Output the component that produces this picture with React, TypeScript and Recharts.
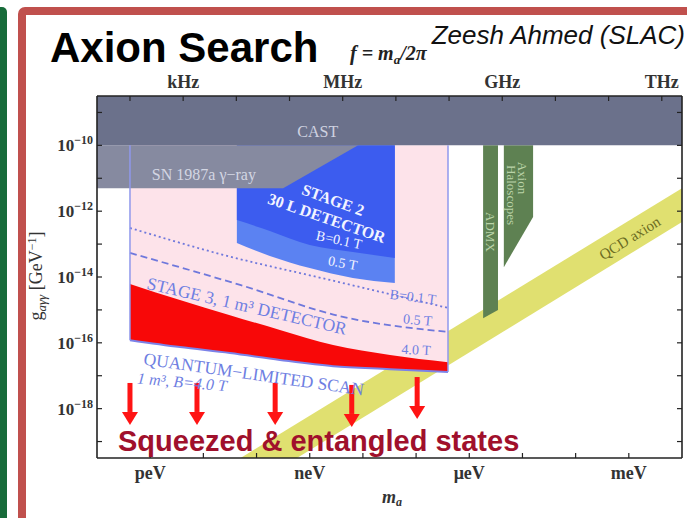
import { Area, ComposedChart, Line, ReferenceLine, Scatter, XAxis, YAxis } from 'recharts'

const serif = '"Liberation Serif", "DejaVu Serif", serif'
const sans = '"Liberation Sans", Arial, sans-serif'

// x = log10(m_a / eV), y = log10(g_agg / GeV^-1)
const massTicks = [-12, -11, -10, -9, -8, -7, -6, -5, -4, -3]
const massLabels: Record<string, string> = { '-12': 'peV', '-9': 'neV', '-6': 'μeV', '-3': 'meV' }
const freqTicks = [-12.38, -11.38, -10.38, -9.38, -8.38, -7.38, -6.38, -5.38, -4.38, -3.38, -2.38]
const freqLabels: Record<string, string> = { '-11.38': 'kHz', '-8.38': 'MHz', '-5.38': 'GHz', '-2.38': 'THz' }
const couplingTicks = [-19, -18, -17, -16, -15, -14, -13, -12, -11, -10, -9]
const couplingLabels = [-18, -16, -14, -12, -10]

// excluded / projected regions
const castM = [-13, -2]
const castTop = [-8.5, -8.5]
const castBottom = [-10, -10]

const snM = [-13, -9.5, -8.09]
const snTop = [-10, -10, -10]
const snBottom = [-11.3, -11.3, -10]

const redM = [-12.38, -11.44, -10.5, -9.56, -8.56, -7.49, -6.4]
const redTop = [-14.21, -14.7, -15.16, -15.61, -16.07, -16.37, -16.59]
const redBottom = [-15.92, -16.13, -16.31, -16.52, -16.71, -16.8, -16.89]
const pinkTop = [-10, -10, -10, -10, -10, -10, -10]

const stage2M = [-10.37, -9.75, -9.0, -8.19, -7.4]
const stage2Top = [-10, -10, -10, -10, -10]
const stage2Low = [-12.97, -13.36, -13.73, -14.03, -14.18]
const stage2High = [-12.27, -12.6, -13.03, -13.24, -13.42]

const dottedM = [-12.38, -10.69, -8.62, -6.4]
const dottedG = [-12.51, -13.3, -14.09, -14.94]
const dashedM = [-12.38, -10.31, -8.43, -6.4]
const dashedG = [-13.27, -14.24, -15.19, -15.67]

const admxM = [-5.74, -5.46]
const admxTop = [-10, -10]
const admxBottom = [-15.25, -15.0]
const haloM = [-5.35, -4.8]
const haloTop = [-10, -10]
const haloBottom = [-13.7, -12.18]

const qcdM = [-10.3, -2]
const qcdTop = [-19.5, -11.3]
const qcdBottom = [-20.55, -12.33]

const arrowM = [-12.38, -11.12, -9.65, -8.21, -6.98]
const arrowG = [-17.22, -17.22, -17.22, -17.28, -17.04]

const notes = [
  { m: -8.85, g: -9.59, text: 'CAST', angle: 0, size: 16, color: '#cfd2e0' },
  { m: -10.99, g: -10.9, text: 'SN 1987a γ−ray', angle: 0, size: 16, color: '#d3d6e3' },
  { m: -8.56, g: -11.66, text: 'STAGE 2', angle: 20, size: 16, color: '#f2f4ff', bold: true },
  { m: -8.68, g: -12.21, text: '30 L DETECTOR', angle: 19, size: 16, color: '#f2f4ff', bold: true },
  { m: -8.45, g: -12.88, text: 'B=0.1 T', angle: 12, size: 14, color: '#f2f4ff' },
  { m: -8.38, g: -13.58, text: '0.5 T', angle: 10, size: 14, color: '#f2f4ff' },
  { m: -7.06, g: -14.61, text: 'B=0.1 T', angle: 7, size: 14, color: '#6f7fe2' },
  { m: -6.97, g: -15.31, text: '0.5 T', angle: 5, size: 14, color: '#6f7fe2' },
  { m: -7.0, g: -16.22, text: '4.0 T', angle: 3, size: 14, color: '#6f7fe2' },
  { m: -10.18, g: -14.88, text: 'STAGE 3, 1 m³ DETECTOR', angle: 13, size: 17.5, color: '#6f7fe2' },
  { m: -10.05, g: -16.95, text: 'QUANTUM−LIMITED SCAN', angle: 8, size: 17.5, color: '#6f7fe2' },
  { m: -11.4, g: -17.19, text: '1 m³, B=4.0 T', angle: 5, size: 16, color: '#6f7fe2', italic: true },
  { m: -5.61, g: -12.63, text: 'ADMX', angle: 90, size: 13, color: '#b9d3a8' },
  { m: -4.99, g: -10.99, text: 'Axion', angle: 90, size: 13, color: '#b9d3a8' },
  { m: -5.2, g: -11.51, text: 'Haloscopes', angle: 90, size: 13, color: '#b9d3a8' },
  { m: -2.98, g: -12.82, text: 'QCD axion', angle: -32, size: 15, color: '#6b6b22' },
]

const band = (m: number[], lo: number[], hi: number[]) => m.map((v, i) => ({ m: v, r: [lo[i], hi[i]] }))
const curve = (m: number[], g: number[]) => m.map((v, i) => ({ m: v, g: g[i] }))

function BottomTick({ x, y, payload }: any) {
  const label = massLabels[String(payload.value)]
  return (
    <g>
      <line x1={x} x2={x} y1={y} y2={y - 5} stroke="#222" strokeWidth={1.2} />
      {label && (
        <text x={x} y={y + 21} textAnchor="middle" fontFamily={serif} fontWeight={700} fontSize={18} fill="#333">
          {label}
        </text>
      )}
    </g>
  )
}

function TopTick({ x, y, payload }: any) {
  const label = freqLabels[String(payload.value)]
  return (
    <g>
      <line x1={x} x2={x} y1={y} y2={y + 5} stroke="#222" strokeWidth={1.2} />
      {label && (
        <text x={x} y={y - 8} textAnchor="middle" fontFamily={serif} fontWeight={700} fontSize={18} fill="#333">
          {label}
        </text>
      )}
    </g>
  )
}

function LeftTick({ x, y, payload }: any) {
  const v = payload.value as number
  return (
    <g>
      <line x1={x} x2={x + 5} y1={y} y2={y} stroke="#222" strokeWidth={1.2} />
      {couplingLabels.includes(v) && (
        <text x={x - 4} y={y + 6} textAnchor="end" fontFamily={serif} fontWeight={700} fontSize={17} fill="#333">
          10
          <tspan dy={-7} fontSize={12}>{`\u2212${Math.abs(v)}`}</tspan>
        </text>
      )}
    </g>
  )
}

function RightTick({ x, y }: any) {
  return <line x1={x} x2={x - 5} y1={y} y2={y} stroke="#222" strokeWidth={1.2} />
}

function Arrow({ cx, cy }: any) {
  return (
    <g>
      <rect x={cx - 2.5} y={cy} width={5} height={29} fill="#ff1414" />
      <polygon points={`${cx - 8},${cy + 29} ${cx + 8},${cy + 29} ${cx},${cy + 42}`} fill="#ff1414" />
    </g>
  )
}

function Note({ cx, cy, payload }: any) {
  return (
    <text
      x={cx}
      y={cy}
      textAnchor="middle"
      dominantBaseline="central"
      transform={`rotate(${payload.angle} ${cx} ${cy})`}
      fontFamily={serif}
      fontSize={payload.size}
      fontWeight={payload.bold ? 700 : 400}
      fontStyle={payload.italic ? 'italic' : 'normal'}
      fill={payload.color}
    >
      {payload.text}
    </text>
  )
}

export default function App() {
  const edge = { stroke: '#8f98ec', strokeWidth: 1.5 }
  return (
    <div style={{ position: 'absolute', left: 0, top: 0, width: 687, height: 518, background: '#fff', overflow: 'hidden' }}>
      <div style={{ position: 'absolute', left: -6, top: 7, width: 13, height: 520, background: '#176b3a', borderRadius: 5 }} />
      <div
        style={{
          position: 'absolute',
          left: 18,
          top: 7,
          width: 690,
          height: 530,
          border: '8px solid #c0504d',
          borderRadius: 7,
          boxSizing: 'border-box',
        }}
      />
      <div style={{ position: 'absolute', left: 0, top: 0 }}>
        <ComposedChart width={687} height={518} margin={{ top: 66, right: 0, bottom: 30, left: 37 }}>
          <XAxis
            dataKey="m"
            type="number"
            domain={[-13, -2]}
            ticks={massTicks}
            interval={0}
            allowDataOverflow
            tickSize={0}
            tickMargin={0}
            height={30}
            tick={<BottomTick />}
            axisLine={{ stroke: '#222', strokeWidth: 1.6 }}
          />
          <XAxis
            xAxisId="top"
            orientation="top"
            dataKey="m"
            type="number"
            domain={[-13, -2]}
            ticks={freqTicks}
            interval={0}
            allowDataOverflow
            tickSize={0}
            tickMargin={0}
            height={30}
            tick={<TopTick />}
            axisLine={{ stroke: '#222', strokeWidth: 1.6 }}
          />
          <YAxis
            type="number"
            domain={[-19.5, -8.5]}
            ticks={couplingTicks}
            interval={0}
            allowDataOverflow
            tickSize={0}
            tickMargin={0}
            width={60}
            tick={<LeftTick />}
            axisLine={{ stroke: '#222', strokeWidth: 1.6 }}
          />
          <YAxis
            yAxisId="right"
            orientation="right"
            type="number"
            domain={[-19.5, -8.5]}
            ticks={couplingTicks}
            interval={0}
            allowDataOverflow
            tickSize={0}
            tickMargin={0}
            width={5}
            tick={<RightTick />}
            axisLine={{ stroke: '#222', strokeWidth: 1.6 }}
          />

          <Area data={band(qcdM, qcdBottom, qcdTop)} dataKey="r" type="linear" fill="#e0e070" fillOpacity={1} stroke="none" isAnimationActive={false} />
          <Area data={band(redM, redBottom, pinkTop)} dataKey="r" type="linear" fill="#fde3ea" fillOpacity={1} stroke="none" isAnimationActive={false} />
          <Area data={band(redM, redBottom, redTop)} dataKey="r" type="monotone" fill="#f80808" fillOpacity={1} stroke="none" isAnimationActive={false} />
          <Area data={band(stage2M, stage2Low, stage2Top)} dataKey="r" type="monotone" fill="#5b82f2" fillOpacity={1} stroke="none" isAnimationActive={false} />
          <Area data={band(stage2M, stage2High, stage2Top)} dataKey="r" type="monotone" fill="#3c5cef" fillOpacity={1} stroke="none" isAnimationActive={false} />
          <Area data={band(admxM, admxBottom, admxTop)} dataKey="r" type="linear" fill="#5e8152" fillOpacity={1} stroke="none" isAnimationActive={false} />
          <Area data={band(haloM, haloBottom, haloTop)} dataKey="r" type="linear" fill="#5e8152" fillOpacity={1} stroke="none" isAnimationActive={false} />
          <Area data={band(snM, snBottom, snTop)} dataKey="r" type="linear" fill="#868aa0" fillOpacity={1} stroke="none" isAnimationActive={false} />
          <Area data={band(castM, castBottom, castTop)} dataKey="r" type="linear" fill="#6b718b" fillOpacity={1} stroke="none" isAnimationActive={false} />

          <Line data={curve(dottedM, dottedG)} dataKey="g" type="monotone" stroke="#6f78dc" strokeWidth={1.8} strokeDasharray="2 3" dot={false} isAnimationActive={false} />
          <Line data={curve(dashedM, dashedG)} dataKey="g" type="monotone" stroke="#6f78dc" strokeWidth={1.8} strokeDasharray="7 4" dot={false} isAnimationActive={false} />
          <Line data={curve(redM, redBottom)} dataKey="g" type="monotone" stroke="#7b82e8" strokeWidth={2} dot={false} isAnimationActive={false} />
          <ReferenceLine segment={[{ x: redM[0], y: pinkTop[0] }, { x: redM[0], y: redBottom[0] }]} {...edge} />
          <ReferenceLine segment={[{ x: redM[6], y: pinkTop[6] }, { x: redM[6], y: redBottom[6] }]} {...edge} />

          <Scatter data={curve(arrowM, arrowG)} dataKey="g" shape={<Arrow />} isAnimationActive={false} />
          <Scatter data={notes} dataKey="g" shape={<Note />} isAnimationActive={false} />
        </ComposedChart>
      </div>
      <svg width={687} height={518} style={{ position: 'absolute', left: 0, top: 0, pointerEvents: 'none' }}>
        <text x={50} y={62} fontFamily={sans} fontWeight={700} fontSize={42} fill="#000">
          Axion Search
        </text>
        <text x={685} y={44} textAnchor="end" fontFamily={sans} fontStyle="italic" fontSize={26} fill="#111">
          Zeesh Ahmed (SLAC)
        </text>
        <text x={350} y={60} fontFamily={serif} fontStyle="italic" fontWeight={700} fontSize={20} fill="#222">
          f = m<tspan dy={4} fontSize={13}>a</tspan>
          <tspan dy={-4}>/2π</tspan>
        </text>
        <text transform="translate(42,276) rotate(-90)" textAnchor="middle" fontFamily={serif} fontSize={18} fill="#333">
          g<tspan dy={4} fontSize={13} fontStyle="italic">aγγ</tspan>
          <tspan dy={-4}> [GeV</tspan>
          <tspan dy={-6} fontSize={12}>−1</tspan>
          <tspan dy={6}>]</tspan>
        </text>
        <text x={382} y={503} fontFamily={serif} fontStyle="italic" fontWeight={700} fontSize={18} fill="#333">
          m<tspan dy={3} fontSize={12}>a</tspan>
        </text>
        <text x={118} y={451} fontFamily={sans} fontWeight={700} fontSize={29} fill="#a0102c">
          Squeezed &amp; entangled states
        </text>
      </svg>
    </div>
  )
}
